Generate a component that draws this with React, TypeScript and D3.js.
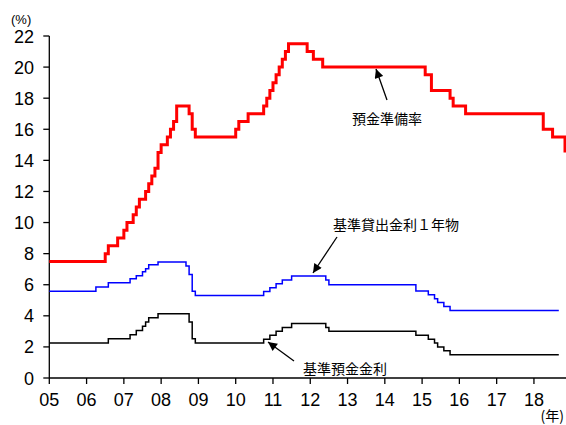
import React from "react";
import * as d3 from "d3";

// Reserve requirement ratio (%), change months
const reserveMonths = [
  "2005-01", "2006-07", "2006-08", "2006-11", "2007-01", "2007-02", "2007-04", "2007-05",
  "2007-06", "2007-08", "2007-09", "2007-10", "2007-11", "2007-12", "2008-01", "2008-03",
  "2008-04", "2008-05", "2008-06", "2008-10", "2008-11", "2008-12", "2010-01", "2010-02",
  "2010-05", "2010-10", "2010-11", "2010-12", "2011-01", "2011-02", "2011-03", "2011-04",
  "2011-05", "2011-06", "2011-12", "2012-02", "2012-05", "2015-02", "2015-04", "2015-10",
  "2015-11", "2016-03", "2018-04", "2018-07", "2018-11",
];
const reserveRates = [
  7.5, 8.0, 8.5, 9.0, 9.5, 10.0, 10.5, 11.0,
  11.5, 12.0, 12.5, 13.0, 13.5, 14.5, 15.0, 15.5,
  16.0, 16.5, 17.5, 17.0, 16.0, 15.5, 16.0, 16.5,
  17.0, 17.5, 18.0, 18.5, 19.0, 19.5, 20.0, 20.5,
  21.0, 21.5, 21.0, 20.5, 20.0, 19.5, 18.5, 18.0,
  17.5, 17.0, 16.0, 15.5, 14.5,
];
const reserveEnd = "2018-11";

// Benchmark 1-year lending rate (%)
const lendingMonths = [
  "2005-01", "2006-04", "2006-08", "2007-03", "2007-05", "2007-07", "2007-08", "2007-09",
  "2007-12", "2008-09", "2008-10", "2008-11", "2008-12", "2010-10", "2010-12", "2011-02",
  "2011-04", "2011-07", "2012-06", "2012-07", "2014-11", "2015-03", "2015-05", "2015-06",
  "2015-08", "2015-10",
];
const lendingRates = [
  5.58, 5.85, 6.12, 6.39, 6.57, 6.84, 7.02, 7.29,
  7.47, 7.2, 6.66, 5.58, 5.31, 5.56, 5.81, 6.06,
  6.31, 6.56, 6.31, 6.0, 5.6, 5.35, 5.1, 4.85,
  4.6, 4.35,
];
const lendingEnd = "2018-09";

// Benchmark deposit rate (%)
const depositMonths = [
  "2005-01", "2006-08", "2007-03", "2007-05", "2007-07", "2007-08", "2007-09", "2007-12",
  "2008-10", "2008-11", "2008-12", "2010-10", "2010-12", "2011-02", "2011-04", "2011-07",
  "2012-06", "2012-07", "2014-11", "2015-03", "2015-05", "2015-06", "2015-08", "2015-10",
];
const depositRates = [
  2.25, 2.52, 2.79, 3.06, 3.33, 3.6, 3.87, 4.14,
  3.6, 2.52, 2.25, 2.5, 2.75, 3.0, 3.25, 3.5,
  3.25, 3.0, 2.75, 2.5, 2.25, 2.0, 1.75, 1.5,
];
const depositEnd = "2018-09";

const yearTicks = [2005, 2006, 2007, 2008, 2009, 2010, 2011, 2012, 2013, 2014, 2015, 2016, 2017, 2018];
const yearLabels = ["05", "06", "07", "08", "09", "10", "11", "12", "13", "14", "15", "16", "17", "18"];
const valueTicks = [0, 2, 4, 6, 8, 10, 12, 14, 16, 18, 20, 22];

const W = 566;
const H = 425;
const x0 = 49.3;
const yearWidth = 37.28;
const yBottom = 378;
const yTop = 36;

const toYear = (m: string) => {
  const [y, mo] = m.split("-").map(Number);
  return y + (mo - 1) / 12;
};

const x = d3.scaleLinear().domain([2005, 2019]).range([x0, x0 + 14 * yearWidth]);
const y = d3.scaleLinear().domain([0, 22]).range([yBottom, yTop]);

type Pt = [number, number];

function buildSeries(months: string[], rates: number[], end: string): Pt[] {
  const pts: Pt[] = months.map((m, i) => [toYear(m), rates[i]]);
  const endYear = toYear(end);
  if (endYear > pts[pts.length - 1][0]) pts.push([endYear, rates[rates.length - 1]]);
  return pts;
}

const line = d3
  .line<Pt>()
  .x((d) => x(d[0]))
  .y((d) => y(d[1]))
  .curve(d3.curveStepAfter);

const numFont = "'Liberation Sans', Arial, sans-serif";
const jpFont = "'Noto Sans CJK JP', 'Noto Sans', sans-serif";

export default function App() {
  const reserve = buildSeries(reserveMonths, reserveRates, reserveEnd);
  const lending = buildSeries(lendingMonths, lendingRates, lendingEnd);
  const deposit = buildSeries(depositMonths, depositRates, depositEnd);

  return (
    <svg
      width={W}
      height={H}
      style={{ position: "absolute", left: 0, top: 0, background: "#fff" }}
    >
      <defs>
        <marker
          id="arrowHead"
          viewBox="0 0 10 10"
          refX="10"
          refY="5"
          markerWidth="11"
          markerHeight="9"
          markerUnits="userSpaceOnUse"
          orient="auto"
        >
          <path d="M0,0 L10,5 L0,10 Z" fill="#000" />
        </marker>
      </defs>

      {/* y axis */}
      <line x1={x0} x2={x0} y1={yTop} y2={yBottom} stroke="#000" strokeWidth={1.3} />
      {valueTicks.map((v) => (
        <g key={v}>
          <line x1={x0 - 6} x2={x0} y1={y(v)} y2={y(v)} stroke="#000" strokeWidth={1.3} />
          <text
            x={34}
            y={y(v) + 6.5}
            textAnchor="end"
            fontFamily={numFont}
            fontSize={18}
            fill="#000"
          >
            {v}
          </text>
        </g>
      ))}
      <text x={11} y={24} fontFamily={numFont} fontSize={13} fill="#000">
        (%)
      </text>

      {/* x axis */}
      <line x1={x0} x2={W} y1={yBottom} y2={yBottom} stroke="#000" strokeWidth={1.3} />
      {yearTicks.map((yr, i) => (
        <g key={yr}>
          <line x1={x(yr)} x2={x(yr)} y1={yBottom} y2={yBottom + 6} stroke="#000" strokeWidth={1.3} />
          <text
            x={x(yr)}
            y={406}
            textAnchor="middle"
            fontFamily={numFont}
            fontSize={18}
            fill="#000"
          >
            {yearLabels[i]}
          </text>
        </g>
      ))}
      <text x={564} y={421} textAnchor="end" fontFamily={jpFont} fontSize={14} fill="#000">
        (年)
      </text>

      {/* series */}
      <path d={line(deposit) ?? ""} fill="none" stroke="#000" strokeWidth={1.5} />
      <path d={line(lending) ?? ""} fill="none" stroke="#0000ff" strokeWidth={1.5} />
      <path d={line(reserve) ?? ""} fill="none" stroke="#ff0000" strokeWidth={3} />

      {/* annotations */}
      <line x1={387} y1={100} x2={376} y2={69} stroke="#000" strokeWidth={1.3} markerEnd="url(#arrowHead)" />
      <text x={352} y={124} fontFamily={jpFont} fontSize={14} fill="#000">
        預金準備率
      </text>

      <line x1={337} y1={237} x2={313} y2={273} stroke="#000" strokeWidth={1.3} markerEnd="url(#arrowHead)" />
      <text x={333} y={230} fontFamily={jpFont} fontSize={14} fill="#000">
        基準貸出金利１年物
      </text>

      <line x1={294} y1={361} x2={268} y2={342} stroke="#000" strokeWidth={1.3} markerEnd="url(#arrowHead)" />
      <text x={303} y={374} fontFamily={jpFont} fontSize={14} fill="#000">
        基準預金金利
      </text>
    </svg>
  );
}
